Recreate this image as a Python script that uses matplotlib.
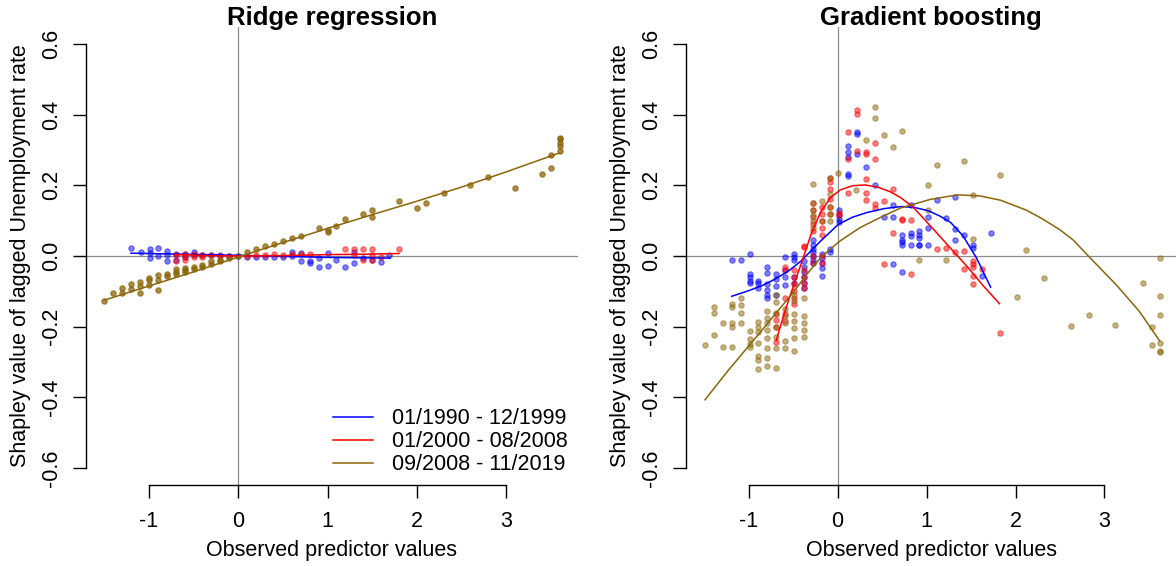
import matplotlib
matplotlib.use("Agg")
import matplotlib.pyplot as plt
from matplotlib.lines import Line2D

plt.rcParams['font.family'] = ['Liberation Sans', 'DejaVu Sans']
plt.rcParams['font.size'] = 15.5

# colours for the three periods
col_p1 = '#0000FF'
col_p2 = '#FF0000'
col_p3 = '#8B6508'
periods = ['01/1990 - 12/1999', '01/2000 - 08/2008', '09/2008 - 11/2019']

# ---------------- Ridge regression: Shapley values (points) ----------------
ridge_p1_x = [-1.20, -1.09, -0.99, -0.99, -0.99, -0.90, -0.90, -0.80, -0.80, -0.80, -0.70, -0.70,
              -0.60, -0.60, -0.50, -0.50, -0.40, -0.30, -0.20, -0.10, 0.00, 0.10, 0.20, 0.30,
              0.40, 0.50, 0.60, 0.60, 0.70, 0.70, 0.80, 0.80, 0.90, 0.90, 1.00, 1.00, 1.10,
              1.20, 1.30, 1.30, 1.40, 1.50, 1.60, 1.69]
ridge_p1_y = [0.024, 0.011, 0.019, 0.008, -0.005, 0.024, 0.000, 0.014, 0.004, -0.014, 0.005, -0.010,
              0.006, -0.004, 0.012, 0.002, 0.004, 0.003, 0.002, 0.001, 0.000, -0.003, -0.002, -0.004,
              -0.004, -0.004, 0.012, 0.000, 0.008, -0.015, -0.013, -0.020, -0.005, -0.030, 0.009, -0.028, -0.011,
              -0.030, 0.010, -0.020, -0.005, -0.010, -0.017, 0.004]

ridge_p2_x = [-0.70, -0.70, -0.60, -0.60, -0.60, -0.50, -0.50, -0.40, -0.40, -0.30, -0.20, -0.10,
              0.10, 0.20, 0.30, 0.40, 0.50, 0.60, 0.70, 0.80, 1.20, 1.30, 1.30, 1.40, 1.40,
              1.50, 1.50, 1.50, 1.60, 1.80]
ridge_p2_y = [0.003, -0.014, 0.005, -0.004, -0.012, 0.006, -0.003, 0.004, -0.002, 0.002, 0.001, 0.000,
              0.001, 0.002, 0.004, 0.005, 0.002, 0.005, 0.006, 0.006, 0.020, 0.020, 0.004, 0.020, -0.011,
              0.019, 0.004, -0.011, -0.003, 0.020]

ridge_p3_x = [-1.50, -1.40, -1.30, -1.30, -1.20, -1.20, -1.10, -1.10, -1.10, -1.00, -1.00, -1.00,
              -0.90, -0.90, -0.90, -0.80, -0.80, -0.70, -0.70, -0.70, -0.60, -0.60, -0.60, -0.50,
              -0.50, -0.40, -0.40, -0.30, -0.30, -0.20, -0.20, -0.10, 0.00, 0.10, 0.20, 0.30,
              0.40, 0.50, 0.60, 0.70, 0.90, 1.00, 1.00, 1.10, 1.20, 1.40, 1.50, 1.50, 1.80,
              2.00, 2.10, 2.30, 2.60, 2.80, 3.10, 3.40, 3.50, 3.50, 3.60, 3.60, 3.60, 3.60, 3.60]
ridge_p3_y = [-0.128, -0.105, -0.091, -0.105, -0.094, -0.080, -0.105, -0.085, -0.074, -0.083, -0.069, -0.063,
              -0.095, -0.068, -0.054, -0.058, -0.051, -0.050, -0.044, -0.037, -0.044, -0.040, -0.034, -0.038,
              -0.030, -0.030, -0.025, -0.022, -0.015, -0.015, -0.010, -0.006, 0.000, 0.012, 0.020, 0.027,
              0.035, 0.043, 0.050, 0.057, 0.080, 0.073, 0.068, 0.085, 0.105, 0.119, 0.131, 0.111, 0.156,
              0.136, 0.150, 0.179, 0.202, 0.224, 0.193, 0.233, 0.250, 0.287, 0.298, 0.312, 0.321, 0.330, 0.335]

# smoothed fits (ridge)
ridge_fit1_x = [-1.20, 0.00, 1.00, 1.70]
ridge_fit1_y = [0.008, 0.002, -0.004, -0.006]
ridge_fit2_x = [-0.72, -0.30, 0.00, 0.50, 1.00, 1.40, 1.80]
ridge_fit2_y = [0.004, 0.001, 0.000, 0.001, 0.004, 0.005, 0.007]
ridge_fit3_x = [-1.50, -1.00, -0.50, 0.00, 0.50, 1.00, 1.50, 2.00, 2.50, 3.00, 3.60]
ridge_fit3_y = [-0.125, -0.085, -0.045, -0.003, 0.038, 0.078, 0.117, 0.155, 0.195, 0.238, 0.292]

# ---------------- Gradient boosting: Shapley values (points) ----------------
gb_p1 = [(-1.19, -0.010), (-1.09, -0.010), (-0.99, 0.007), (-0.99, -0.050), (-0.99, -0.060), (-0.99, -0.070),
         (-0.99, -0.075), (-0.89, -0.075), (-0.89, -0.090), (-0.89, -0.070), (-0.79, -0.030), (-0.79, -0.047),
         (-0.79, -0.080), (-0.79, -0.095), (-0.79, -0.110), (-0.79, -0.120), (-0.69, -0.050), (-0.69, -0.085),
         (-0.69, -0.110), (-0.69, -0.065), (-0.59, -0.003), (-0.59, -0.040), (-0.59, -0.083), (-0.59, -0.060),
         (-0.49, 0.007), (-0.49, -0.003), (-0.49, -0.010), (-0.49, -0.060), (-0.49, -0.075), (-0.38, -0.015),
         (-0.38, -0.030), (-0.38, -0.045), (-0.38, -0.060), (-0.38, -0.075), (-0.38, -0.090), (-0.28, 0.030),
         (-0.28, 0.020), (-0.28, 0.010), (-0.28, 0.000), (-0.28, -0.010), (-0.28, -0.020), (-0.28, 0.045),
         (-0.18, -0.005), (-0.18, -0.020), (-0.18, -0.035), (-0.18, -0.057), (-0.18, 0.005), (-0.09, 0.010),
         (-0.09, 0.020), (0.02, 0.117), (0.02, 0.105), (0.02, 0.097), (0.02, 0.130), (0.12, 0.310),
         (0.12, 0.295), (0.12, 0.280), (0.12, 0.232), (0.12, 0.225), (0.22, 0.350), (0.22, 0.345),
         (0.22, 0.290), (0.32, 0.253), (0.42, 0.200), (0.52, 0.109), (0.62, 0.145), (0.62, 0.110),
         (0.62, -0.023), (0.72, 0.045), (0.72, 0.040), (0.72, 0.030), (0.72, -0.045), (0.72, 0.060),
         (0.82, 0.144), (0.82, 0.065), (0.82, 0.056), (0.82, 0.030), (0.92, 0.071), (0.92, 0.060),
         (0.92, 0.050), (0.92, 0.030), (0.92, 0.032), (1.02, 0.110), (1.02, 0.079), (1.02, 0.030),
         (1.12, 0.158), (1.22, 0.108), (1.32, 0.168), (1.32, 0.076), (1.32, 0.045), (1.42, 0.060),
         (1.52, 0.022), (1.52, 0.030), (1.62, -0.057), (1.72, 0.066)]

gb_p2 = [(-0.69, -0.164), (-0.69, -0.180), (-0.69, -0.243), (-0.69, -0.200), (-0.59, -0.165), (-0.59, -0.185),
         (-0.59, -0.030), (-0.59, -0.040), (-0.59, -0.120), (-0.49, -0.040), (-0.49, -0.060), (-0.49, -0.080),
         (-0.49, -0.100), (-0.49, -0.120), (-0.49, -0.137), (-0.38, 0.028), (-0.38, -0.040), (-0.38, -0.060),
         (-0.38, -0.075), (-0.38, -0.090), (-0.38, 0.026), (-0.28, 0.130), (-0.28, 0.110), (-0.28, 0.090),
         (-0.28, 0.070), (-0.28, 0.150), (-0.28, -0.020), (-0.28, 0.000), (-0.18, 0.140), (-0.18, 0.120),
         (-0.18, 0.100), (-0.18, 0.080), (-0.18, 0.060), (-0.18, 0.000), (-0.18, -0.020), (-0.09, 0.222),
         (-0.09, 0.210), (-0.09, 0.190), (-0.09, 0.160), (-0.09, 0.140), (-0.09, 0.120), (0.02, 0.123),
         (0.02, 0.115), (0.12, 0.350), (0.12, 0.275), (0.12, 0.177), (0.22, 0.412), (0.22, 0.403),
         (0.22, 0.298), (0.32, 0.295), (0.32, 0.290), (0.32, 0.218), (0.32, 0.177), (0.32, 0.158),
         (0.42, 0.319), (0.42, 0.275), (0.42, 0.147), (0.42, 0.137), (0.52, 0.156), (0.52, -0.022),
         (0.62, 0.190), (0.62, 0.066), (0.72, 0.101), (0.72, 0.104), (0.82, 0.103), (0.82, -0.052),
         (1.12, 0.021), (1.22, 0.023), (1.32, 0.011), (1.42, 0.013), (1.42, -0.037), (1.52, -0.015),
         (1.52, -0.023), (1.52, -0.030), (1.52, -0.058), (1.52, -0.078), (1.62, -0.037), (1.82, -0.218)]

gb_p3 = [(-1.49, -0.251), (-1.39, -0.145), (-1.39, -0.161), (-1.39, -0.224), (-1.29, -0.190), (-1.29, -0.257),
         (-1.19, -0.135), (-1.19, -0.145), (-1.19, -0.190), (-1.19, -0.200), (-1.19, -0.257), (-1.09, -0.120),
         (-1.09, -0.140), (-1.09, -0.160), (-1.09, -0.190), (-0.99, -0.213), (-0.99, -0.235), (-0.99, -0.250),
         (-0.99, -0.257), (-0.89, -0.188), (-0.89, -0.200), (-0.89, -0.215), (-0.89, -0.245), (-0.89, -0.284),
         (-0.89, -0.295), (-0.89, -0.320), (-0.79, -0.157), (-0.79, -0.175), (-0.79, -0.190), (-0.79, -0.210),
         (-0.79, -0.232), (-0.79, -0.260), (-0.79, -0.290), (-0.79, -0.310), (-0.69, -0.110), (-0.69, -0.130),
         (-0.69, -0.160), (-0.69, -0.200), (-0.69, -0.230), (-0.69, -0.260), (-0.69, -0.317), (-0.59, -0.150),
         (-0.59, -0.170), (-0.59, -0.190), (-0.59, -0.240), (-0.59, -0.260), (-0.49, -0.165), (-0.49, -0.185),
         (-0.49, -0.205), (-0.49, -0.233), (-0.49, -0.270), (-0.49, -0.110), (-0.49, -0.128), (-0.38, -0.120),
         (-0.38, -0.170), (-0.38, -0.190), (-0.38, -0.210), (-0.38, -0.230), (-0.28, 0.204), (-0.28, 0.149),
         (-0.28, 0.130), (-0.28, 0.115), (-0.28, 0.100), (-0.28, 0.080), (-0.18, 0.156), (-0.18, 0.100),
         (-0.09, 0.222), (-0.09, 0.176), (-0.09, 0.140), (-0.09, 0.120), (-0.09, 0.100), (0.01, 0.234),
         (0.21, 0.187), (0.32, 0.329), (0.42, 0.423), (0.42, 0.391), (0.52, 0.343), (0.62, 0.308),
         (0.72, 0.353), (0.92, -0.011), (1.02, 0.201), (1.02, 0.130), (1.12, 0.258), (1.22, -0.010),
         (1.42, 0.268), (1.52, 0.173), (1.52, 0.047), (1.82, 0.230), (2.02, -0.117), (2.12, 0.016),
         (2.32, -0.063), (2.62, -0.198), (2.83, -0.168), (3.12, -0.196), (3.43, -0.076), (3.53, -0.200),
         (3.53, -0.252), (3.62, -0.005), (3.62, -0.113), (3.62, -0.168), (3.62, -0.245), (3.62, -0.270),
         (3.62, -0.272)]

# smoothed fits (gradient boosting)
gb_fit1_x = [-1.19, -1.01, -0.85, -0.70, -0.55, -0.41, -0.20, 0.01, 0.17, 0.33, 0.52, 0.72, 0.87,
             1.02, 1.15, 1.27, 1.41, 1.56, 1.72]
gb_fit1_y = [-0.114, -0.099, -0.084, -0.065, -0.042, -0.014, 0.040, 0.090, 0.110, 0.123, 0.134, 0.140, 0.137,
             0.128, 0.113, 0.095, 0.057, -0.005, -0.088]
gb_fit2_x = [-0.69, -0.59, -0.49, -0.40, -0.30, -0.19, -0.08, 0.03, 0.17, 0.31, 0.45, 0.59, 0.71, 0.85,
             1.08, 1.27, 1.45, 1.64, 1.82]
gb_fit2_y = [-0.239, -0.155, -0.080, -0.015, 0.060, 0.125, 0.165, 0.187, 0.199, 0.201, 0.195, 0.182, 0.165, 0.138,
             0.075, 0.022, -0.028, -0.085, -0.135]
gb_fit3_x = [-1.49, -1.24, -1.05, -0.86, -0.67, -0.49, -0.34, -0.19, -0.08, 0.03, 0.25, 0.48, 0.71, 1.04,
             1.35, 1.60, 1.83, 2.12, 2.31, 2.50, 2.65, 2.83, 3.13, 3.39, 3.62]
gb_fit3_y = [-0.407, -0.327, -0.270, -0.213, -0.155, -0.100, -0.050, -0.005, 0.020, 0.043, 0.080, 0.109, 0.136, 0.160,
             0.173, 0.170, 0.158, 0.130, 0.104, 0.074, 0.045, -0.003, -0.081, -0.156, -0.240]

xticks = [-1, 0, 1, 2, 3]
yticks = [-0.6, -0.4, -0.2, 0.0, 0.2, 0.4, 0.6]
ytick_labels = ['-0.6', '-0.4', '-0.2', '0.0', '0.2', '0.4', '0.6']


def style_axes(ax, title):
    ax.set_xlim(-1.704, 3.804)
    ax.set_ylim(-0.648, 0.648)
    ax.axhline(0, color='#8c8c8c', lw=0.9, zorder=0)
    ax.axvline(0, color='#8c8c8c', lw=0.9, zorder=0)
    for s in ['top', 'right']:
        ax.spines[s].set_visible(False)
    ax.spines['left'].set_bounds(-0.6, 0.6)
    ax.spines['bottom'].set_bounds(-1, 3)
    ax.spines['left'].set_linewidth(1.0)
    ax.spines['bottom'].set_linewidth(1.0)
    ax.set_xticks(xticks)
    ax.set_xticklabels([str(t) for t in xticks])
    ax.set_yticks(yticks)
    ax.set_yticklabels(ytick_labels)
    ax.tick_params(axis='both', direction='out', length=9.5, width=1.0)
    ax.tick_params(axis='x', pad=9)
    ax.tick_params(axis='y', pad=8)
    plt.setp(ax.get_yticklabels(), rotation=90, va='center')
    ax.set_title(title, fontweight='bold', fontsize=18.5, y=1.0197, pad=0, va='center')
    ax.set_xlabel('Observed predictor values', va='center')
    ax.xaxis.set_label_coords(0.5, -0.142)
    ax.set_ylabel('Shapley value of lagged Unemployment rate', va='center')
    ax.yaxis.set_label_coords(-0.134, 0.5)


def dots(ax, x, y, c, a):
    ax.scatter(x, y, s=15, facecolor=c, edgecolor=c, linewidths=0.8, alpha=a, zorder=2)


fig = plt.figure(figsize=(11.76, 5.66), dpi=100)
ax1 = fig.add_axes([86 / 1176, 81 / 566, 492 / 1176, 458 / 566])
ax2 = fig.add_axes([686 / 1176, 81 / 566, 490 / 1176, 458 / 566])

# left: ridge regression
dots(ax1, ridge_p1_x, ridge_p1_y, col_p1, 0.5)
dots(ax1, ridge_p2_x, ridge_p2_y, col_p2, 0.5)
dots(ax1, ridge_p3_x, ridge_p3_y, col_p3, 0.75)
ax1.plot(ridge_fit1_x, ridge_fit1_y, color=col_p1, lw=1.1, zorder=3)
ax1.plot(ridge_fit2_x, ridge_fit2_y, color=col_p2, lw=1.1, zorder=3)
ax1.plot(ridge_fit3_x, ridge_fit3_y, color=col_p3, lw=1.1, zorder=3)
style_axes(ax1, 'Ridge regression')

handles = [Line2D([], [], color=c, lw=1.1) for c in [col_p1, col_p2, col_p3]]
ax1.legend(handles, periods, loc='upper left', bbox_to_anchor=(0.502, 0.168), frameon=False,
           borderpad=0, borderaxespad=0, handlelength=1.84, handletextpad=0.88, labelspacing=0.1)

# right: gradient boosting
for pts, c in [(gb_p1, col_p1), (gb_p2, col_p2), (gb_p3, col_p3)]:
    dots(ax2, [p[0] for p in pts], [p[1] for p in pts], c, 0.5)
ax2.plot(gb_fit1_x, gb_fit1_y, color=col_p1, lw=1.1, zorder=3)
ax2.plot(gb_fit2_x, gb_fit2_y, color=col_p2, lw=1.1, zorder=3)
ax2.plot(gb_fit3_x, gb_fit3_y, color=col_p3, lw=1.1, zorder=3)
style_axes(ax2, 'Gradient boosting')

fig.savefig('out.png', dpi=100)
